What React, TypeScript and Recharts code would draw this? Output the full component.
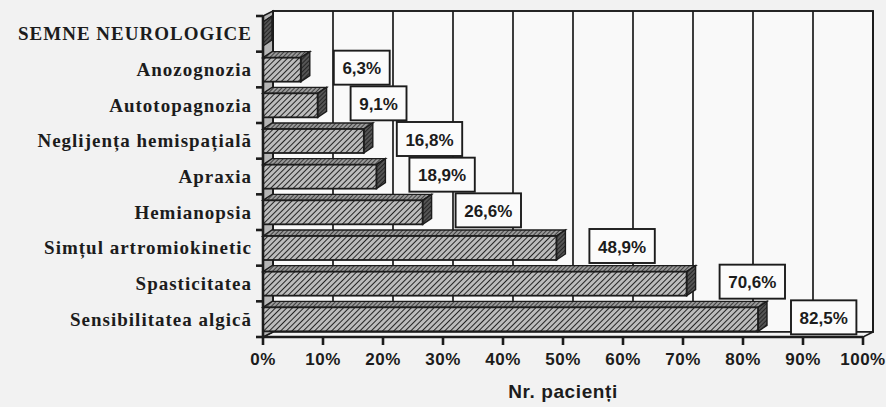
import React from "react";
import { BarChart, Bar, XAxis, YAxis, CartesianGrid, LabelList } from "recharts";

const categories = [
  "SEMNE NEUROLOGICE",
  "Anozognozia",
  "Autotopagnozia",
  "Neglijența hemispațială",
  "Apraxia",
  "Hemianopsia",
  "Simțul artromiokinetic",
  "Spasticitatea",
  "Sensibilitatea algică",
];
const percents = [0, 6.3, 9.1, 16.8, 18.9, 26.6, 48.9, 70.6, 82.5];
const percentTicks = [0, 10, 20, 30, 40, 50, 60, 70, 80, 90, 100];

const data = categories.map((name, i) => ({ name, value: percents[i] }));

const W = 886;
const H = 407;
const PLOT_H = 321;
const BAND = PLOT_H / categories.length;
// 3D depth of the back wall and of the bars
const WALL_DX = 10;
const WALL_DY = 5;
const BAR_DX = 9;
const BAR_DY = 6;
const INK = "#1c1c1c";
const SANS = "'Liberation Sans', Arial, sans-serif";
const SERIF = "'Liberation Serif', 'Times New Roman', serif";

const fmt = (v: number) => v.toFixed(1).replace(".", ",") + "%";

// back wall, side wall, floor and the shifted gridlines
function WallLine(props: any) {
  const { x1, y1, x2, y2, index, x, y, width, height } = props;
  const line = (
    <line
      x1={x1 + WALL_DX}
      y1={y1 - WALL_DY}
      x2={x2 + WALL_DX}
      y2={y2 - WALL_DY}
      stroke={INK}
      strokeWidth={1.7}
    />
  );
  if (index !== 0) return <g key={`wl-${index}`}>{line}</g>;
  const bottom = y + height;
  return (
    <g key="wall">
      <rect
        x={x + WALL_DX}
        y={y - WALL_DY}
        width={width}
        height={height}
        fill="#f9f9f9"
        stroke={INK}
        strokeWidth={1.9}
      />
      <polygon
        points={`${x},${bottom} ${x + WALL_DX},${bottom - WALL_DY} ${x + width + WALL_DX},${bottom - WALL_DY} ${x + width},${bottom}`}
        fill="#f4f4f4"
        stroke={INK}
        strokeWidth={1.5}
      />
      <polygon
        points={`${x},${bottom} ${x},${y} ${x + WALL_DX},${y - WALL_DY} ${x + WALL_DX},${bottom - WALL_DY}`}
        fill="#b5b5b5"
        stroke={INK}
        strokeWidth={1.5}
      />
      {line}
    </g>
  );
}

function Bar3D(props: any) {
  const { x, y, width, height } = props;
  const w = Math.max(0, width);
  return (
    <g>
      <polygon
        points={`${x},${y} ${x + BAR_DX},${y - BAR_DY} ${x + w + BAR_DX},${y - BAR_DY} ${x + w},${y}`}
        fill="url(#hatchTop)"
        stroke={INK}
        strokeWidth={1.4}
      />
      <polygon
        points={`${x + w},${y} ${x + w + BAR_DX},${y - BAR_DY} ${x + w + BAR_DX},${y + height - BAR_DY} ${x + w},${y + height}`}
        fill="url(#hatchSide)"
        stroke={INK}
        strokeWidth={1.4}
      />
      {w > 0 && (
        <rect
          x={x}
          y={y}
          width={w}
          height={height}
          fill="url(#hatchFront)"
          stroke={INK}
          strokeWidth={1.8}
        />
      )}
    </g>
  );
}

function ValueBox(props: any) {
  const { x, y, width, height, value } = props;
  if (!value) return null;
  const text = fmt(value);
  const textW = [...text].reduce(
    (s, c) => s + (c === "," ? 4.8 : c === "%" ? 15.1 : 9.5),
    0
  );
  const boxW = textW + 17;
  const boxH = 34;
  const left = x + width + BAR_DX + 24;
  const top = y + height / 2 - 2 - boxH / 2;
  return (
    <g>
      <rect
        x={left}
        y={top}
        width={boxW}
        height={boxH}
        fill="#fbfbfb"
        stroke={INK}
        strokeWidth={1.9}
      />
      <text
        x={left + boxW / 2}
        y={top + boxH / 2 + 6.5}
        textAnchor="middle"
        fontFamily={SANS}
        fontWeight="bold"
        fontSize={17}
        fill={INK}
      >
        {text}
      </text>
    </g>
  );
}

function CategoryTick(props: any) {
  const { x, y, payload, index } = props;
  return (
    <g>
      <text
        x={x - 11}
        y={y + 6.5}
        textAnchor="end"
        fontFamily={SERIF}
        fontWeight="bold"
        fontSize={19}
        letterSpacing={1}
        fill={INK}
      >
        {payload.value}
      </text>
      <line x1={x - 7} y1={y + BAND / 2} x2={x} y2={y + BAND / 2} stroke={INK} strokeWidth={2.6} />
      {index === 0 && (
        <line x1={x - 7} y1={y - BAND / 2} x2={x} y2={y - BAND / 2} stroke={INK} strokeWidth={2.6} />
      )}
    </g>
  );
}

export default function App() {
  return (
    <div style={{ position: "absolute", left: 0, top: 0, width: W, height: H, background: "#f2f2f2" }}>
      <BarChart
        width={W}
        height={H}
        data={data}
        layout="vertical"
        margin={{ top: 16, right: 23, bottom: 0, left: 0 }}
        barSize={24}
      >
        <defs>
          <pattern id="hatchFront" width="4" height="4" patternUnits="userSpaceOnUse" patternTransform="rotate(45)">
            <rect width="4" height="4" fill="#bcbcbc" />
            <line x1="0" y1="0" x2="0" y2="4" stroke="#242424" strokeWidth="2" />
          </pattern>
          <pattern id="hatchTop" width="3" height="3" patternUnits="userSpaceOnUse" patternTransform="rotate(45)">
            <rect width="3" height="3" fill="#9a9a9a" />
            <line x1="0" y1="0" x2="0" y2="3" stroke="#1a1a1a" strokeWidth="1.4" />
          </pattern>
          <pattern id="hatchSide" width="3" height="3" patternUnits="userSpaceOnUse" patternTransform="rotate(45)">
            <rect width="3" height="3" fill="#555" />
            <line x1="0" y1="0" x2="0" y2="3" stroke="#111" strokeWidth="1.4" />
          </pattern>
        </defs>
        <CartesianGrid horizontal={false} vertical={WallLine} fill="none" stroke={INK} />
        <XAxis
          type="number"
          domain={[0, 100]}
          ticks={percentTicks}
          tickFormatter={(v: number) => `${v}%`}
          height={70}
          stroke={INK}
          axisLine={{ stroke: INK, strokeWidth: 2.6 }}
          tickLine={{ stroke: INK, strokeWidth: 2.6 }}
          tickSize={8}
          tickMargin={8}
          tick={{ fill: INK, fontSize: 17, fontWeight: "bold", fontFamily: SANS, letterSpacing: 0.5 }}
          interval={0}
          label={{
            value: "Nr. pacienți",
            position: "insideBottom",
            offset: 9,
            fill: INK,
            fontSize: 19,
            fontWeight: "bold",
            fontFamily: SANS,
            letterSpacing: 0.6,
          }}
        />
        <YAxis
          type="category"
          dataKey="name"
          width={263}
          axisLine={{ stroke: INK, strokeWidth: 2.6 }}
          tickLine={false}
          tickSize={0}
          tickMargin={0}
          tick={<CategoryTick />}
          interval={0}
        />
        <Bar dataKey="value" shape={<Bar3D />} isAnimationActive={false}>
          <LabelList dataKey="value" content={<ValueBox />} />
        </Bar>
      </BarChart>
    </div>
  );
}
